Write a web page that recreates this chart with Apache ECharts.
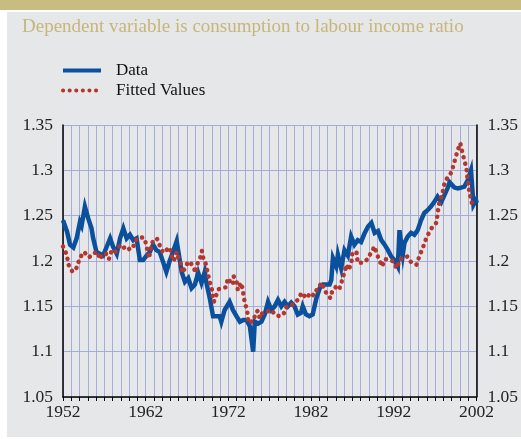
<!DOCTYPE html>
<html>
<head>
<meta charset="utf-8">
<script src="https://cdn.jsdelivr.net/npm/echarts@6/dist/echarts.min.js"></script>
<style>
  html, body { margin: 0; padding: 0; background: #ffffff; }
  #chart { width: 521px; height: 439px; }
</style>
</head>
<body>
<div id="chart"></div>
<script>
// consumption to labour income ratio
var dataYears = [1952.0, 1952.5, 1952.85, 1953.25, 1953.65, 1954.05, 1954.25, 1954.65, 1955.05, 1955.45,
  1955.65, 1956.05, 1956.45, 1956.85, 1957.3, 1957.7, 1958.05, 1958.5, 1958.9, 1959.3,
  1959.7, 1960.1, 1960.5, 1960.9, 1961.3, 1961.7, 1962.1, 1962.5, 1962.9, 1963.3,
  1963.7, 1964.1, 1964.5, 1964.9, 1965.3, 1965.75, 1966.35, 1966.75, 1967.15, 1967.55,
  1967.95, 1968.35, 1968.75, 1969.15, 1969.35, 1969.75, 1970.15, 1970.55, 1970.95, 1971.15,
  1971.55, 1972.15, 1972.55, 1973.0, 1973.4, 1973.8, 1974.2, 1974.6, 1975.0, 1975.2,
  1975.6, 1976.0, 1976.4, 1976.8, 1977.2, 1977.6, 1978.0, 1978.4, 1978.8, 1979.2,
  1979.6, 1980.0, 1980.4, 1980.8, 1981.0, 1981.4, 1981.8, 1982.2, 1982.65, 1983.05,
  1983.45, 1983.85, 1984.25, 1984.45, 1984.65, 1985.05, 1985.25, 1985.65, 1986.05, 1986.45,
  1986.85, 1987.25, 1987.65, 1988.05, 1988.45, 1988.9, 1989.3, 1989.7, 1990.1, 1990.5,
  1990.9, 1991.3, 1991.7, 1992.1, 1992.5, 1992.7, 1992.9, 1993.1, 1993.3, 1993.7,
  1994.1, 1994.5, 1994.9, 1995.3, 1995.7, 1996.1, 1996.5, 1996.9, 1997.3, 1997.75,
  1998.15, 1998.55, 1998.75, 1998.95, 1999.35, 1999.75, 2000.15, 2000.55, 2000.95, 2001.35,
  2001.55, 2001.65, 2001.95, 2002.05];
var dataValues = [1.245, 1.232, 1.218, 1.215, 1.225, 1.243, 1.239, 1.26, 1.247, 1.236,
  1.225, 1.21, 1.208, 1.206, 1.216, 1.225, 1.216, 1.208, 1.225, 1.236,
  1.225, 1.229, 1.223, 1.225, 1.201, 1.201, 1.206, 1.21, 1.218, 1.212,
  1.21, 1.199, 1.188, 1.2, 1.21, 1.222, 1.188, 1.177, 1.181, 1.17,
  1.174, 1.187, 1.176, 1.188, 1.176, 1.159, 1.139, 1.139, 1.139, 1.133,
  1.146, 1.155, 1.146, 1.139, 1.133, 1.135, 1.135, 1.128, 1.1, 1.133,
  1.131, 1.133, 1.141, 1.155, 1.146, 1.15, 1.157, 1.15, 1.155, 1.15,
  1.154, 1.15, 1.141, 1.143, 1.15, 1.141, 1.139, 1.141, 1.159, 1.17,
  1.174, 1.174, 1.174, 1.179, 1.203, 1.194, 1.207, 1.192, 1.212, 1.206,
  1.227, 1.218, 1.223, 1.221, 1.23, 1.238, 1.242, 1.231, 1.233, 1.223,
  1.218, 1.212, 1.205, 1.201, 1.194, 1.234, 1.22, 1.207, 1.22, 1.227,
  1.231, 1.229, 1.234, 1.245, 1.253, 1.256, 1.26, 1.265, 1.271, 1.265,
  1.273, 1.281, 1.287, 1.289, 1.281, 1.28, 1.281, 1.282, 1.289, 1.3,
  1.3, 1.262, 1.267, 1.264];

var fittedYears = [1952.0, 1952.5, 1952.6, 1953.15, 1953.7, 1954.0, 1954.55, 1955.15, 1955.85, 1956.2,
  1956.45, 1956.85, 1957.2, 1957.55, 1957.9, 1958.3, 1958.9, 1959.1, 1959.5, 1959.85,
  1960.1, 1960.45, 1960.7, 1961.05, 1961.65, 1961.9, 1962.15, 1962.4, 1962.75, 1963.35,
  1963.7, 1964.1, 1964.9, 1965.15, 1965.4, 1965.75, 1965.9, 1966.25, 1966.4, 1966.55,
  1966.85, 1967.1, 1967.35, 1967.8, 1968.05, 1968.2, 1968.55, 1968.8, 1968.9, 1969.3,
  1969.5, 1969.75, 1970.0, 1970.1, 1970.25, 1970.6, 1970.85, 1971.7, 1971.95, 1972.3,
  1972.55, 1972.65, 1973.0, 1973.15, 1973.5, 1973.75, 1973.85, 1974.1, 1974.35, 1974.4,
  1975.05, 1975.3, 1975.55, 1975.8, 1976.05, 1976.9, 1977.25, 1977.6, 1978.2, 1978.7,
  1979.05, 1979.8, 1980.5, 1980.85, 1981.45, 1981.95, 1982.3, 1982.8, 1983.3, 1983.75,
  1984.35, 1984.6, 1985.2, 1985.45, 1985.8, 1986.05, 1986.3, 1986.55, 1986.9, 1987.0,
  1987.5, 1987.65, 1988.25, 1988.85, 1989.3, 1989.7, 1989.95, 1990.3, 1990.6, 1990.9,
  1991.25, 1991.85, 1992.4, 1992.7, 1993.3, 1993.65, 1994.15, 1994.75, 1995.1, 1995.5,
  1995.85, 1996.25, 1996.7, 1997.15, 1997.3, 1997.45, 1997.75, 1997.95, 1998.15, 1998.5,
  1999.0, 1999.3, 1999.7, 2000.05, 2000.3, 2000.55, 2000.8, 2000.9, 2001.05, 2001.15,
  2001.4, 2001.5];
var fittedValues = [1.216, 1.206, 1.197, 1.188, 1.193, 1.203, 1.21, 1.204, 1.209, 1.21,
  1.202, 1.208, 1.208, 1.202, 1.212, 1.21, 1.217, 1.214, 1.215, 1.212,
  1.214, 1.214, 1.222, 1.225, 1.226, 1.224, 1.214, 1.203, 1.22, 1.225,
  1.217, 1.209, 1.215, 1.205, 1.2, 1.21, 1.205, 1.197, 1.187, 1.185,
  1.193, 1.199, 1.199, 1.193, 1.187, 1.196, 1.202, 1.211, 1.205, 1.196,
  1.187, 1.177, 1.169, 1.16, 1.155, 1.164, 1.169, 1.171, 1.181, 1.176,
  1.174, 1.183, 1.177, 1.168, 1.176, 1.169, 1.16, 1.151, 1.141, 1.132,
  1.134, 1.143, 1.145, 1.137, 1.142, 1.145, 1.146, 1.141, 1.139, 1.142,
  1.15, 1.152, 1.158, 1.165, 1.159, 1.165, 1.162, 1.17, 1.176, 1.166,
  1.159, 1.168, 1.173, 1.17, 1.18, 1.188, 1.196, 1.19, 1.199, 1.209,
  1.21, 1.198, 1.198, 1.202, 1.21, 1.216, 1.208, 1.2, 1.194, 1.202,
  1.202, 1.2, 1.192, 1.202, 1.203, 1.205, 1.198, 1.196, 1.205, 1.214,
  1.223, 1.231, 1.238, 1.242, 1.251, 1.262, 1.27, 1.277, 1.286, 1.292,
  1.298, 1.308, 1.321, 1.33, 1.32, 1.311, 1.302, 1.293, 1.284, 1.275,
  1.268, 1.26];

var yearLabels = [1952, 1962, 1972, 1982, 1992, 2002];

function pairs(xs, ys) {
  return xs.map(function (x, i) { return [x, ys[i]]; });
}

var serif = 'Liberation Serif';
var gridColor = '#a3acdb';

var chart = echarts.init(document.getElementById('chart'));
chart.setOption({
  backgroundColor: '#ffffff',
  animation: false,
  graphic: [
    { type: 'rect', z: -10, shape: { x: 7, y: 12, width: 514, height: 425 }, style: { fill: '#e6e7e8' } },
    { type: 'rect', z: -10, shape: { x: 0, y: 0, width: 521, height: 10 }, style: { fill: '#c9bc82' } }
  ],
  title: {
    text: 'Dependent variable is consumption to labour income ratio',
    left: 17,
    top: 13,
    textStyle: { fontFamily: serif, fontSize: 19, fontWeight: 'normal', color: '#c6b67a' }
  },
  legend: {
    orient: 'vertical',
    left: 56,
    top: 57,
    itemWidth: 38,
    itemHeight: 12,
    itemGap: 3,
    itemStyle: { opacity: 0 },
    lineStyle: { width: 4 },
    textStyle: { fontFamily: serif, fontSize: 17, color: '#111', padding: [0, 0, 0, 10] },
    data: ['Data', 'Fitted Values']
  },
  grid: { left: 63, right: 43, top: 125, bottom: 42 },
  xAxis: {
    type: 'value',
    min: 1952,
    max: 2002,
    interval: 1,
    axisLine: { show: true, onZero: false, lineStyle: { color: '#000', width: 1.5 } },
    axisTick: { show: true, length: 4, lineStyle: { color: '#000' } },
    axisLabel: {
      margin: 6,
      fontFamily: serif,
      fontSize: 17.5,
      color: '#222',
      showMinLabel: true,
      showMaxLabel: true,
      formatter: function (v) {
        return yearLabels.indexOf(Math.round(v)) >= 0 ? String(Math.round(v)) : '';
      }
    },
    splitLine: { show: true, lineStyle: { color: gridColor, width: 1 } }
  },
  yAxis: [
    {
      type: 'value',
      min: 1.05,
      max: 1.35,
      interval: 0.05,
      position: 'left',
      axisLine: { show: true, lineStyle: { color: '#000', width: 1.5 } },
      axisTick: { show: false },
      axisLabel: { margin: 10, fontFamily: serif, fontSize: 17.5, color: '#222' },
      splitLine: { show: true, lineStyle: { color: gridColor, width: 1 } }
    },
    {
      type: 'value',
      min: 1.05,
      max: 1.35,
      interval: 0.05,
      position: 'right',
      axisLine: { show: true, lineStyle: { color: '#000', width: 1.5 } },
      axisTick: { show: false },
      axisLabel: { margin: 11, fontFamily: serif, fontSize: 17.5, color: '#222' },
      splitLine: { show: false }
    }
  ],
  series: [
    {
      name: 'Data',
      type: 'line',
      data: pairs(dataYears, dataValues),
      showSymbol: false,
      symbol: 'none',
      color: '#0b509d',
      lineStyle: { width: 4.5, color: '#0b509d', join: 'miter' },
      z: 2
    },
    {
      name: 'Fitted Values',
      type: 'line',
      data: pairs(fittedYears, fittedValues),
      showSymbol: false,
      symbol: 'none',
      color: '#b3372f',
      lineStyle: { width: 4.5, color: '#b3372f', type: [0.1, 6.5], cap: 'round' },
      z: 3
    }
  ]
});
</script>
</body>
</html>
